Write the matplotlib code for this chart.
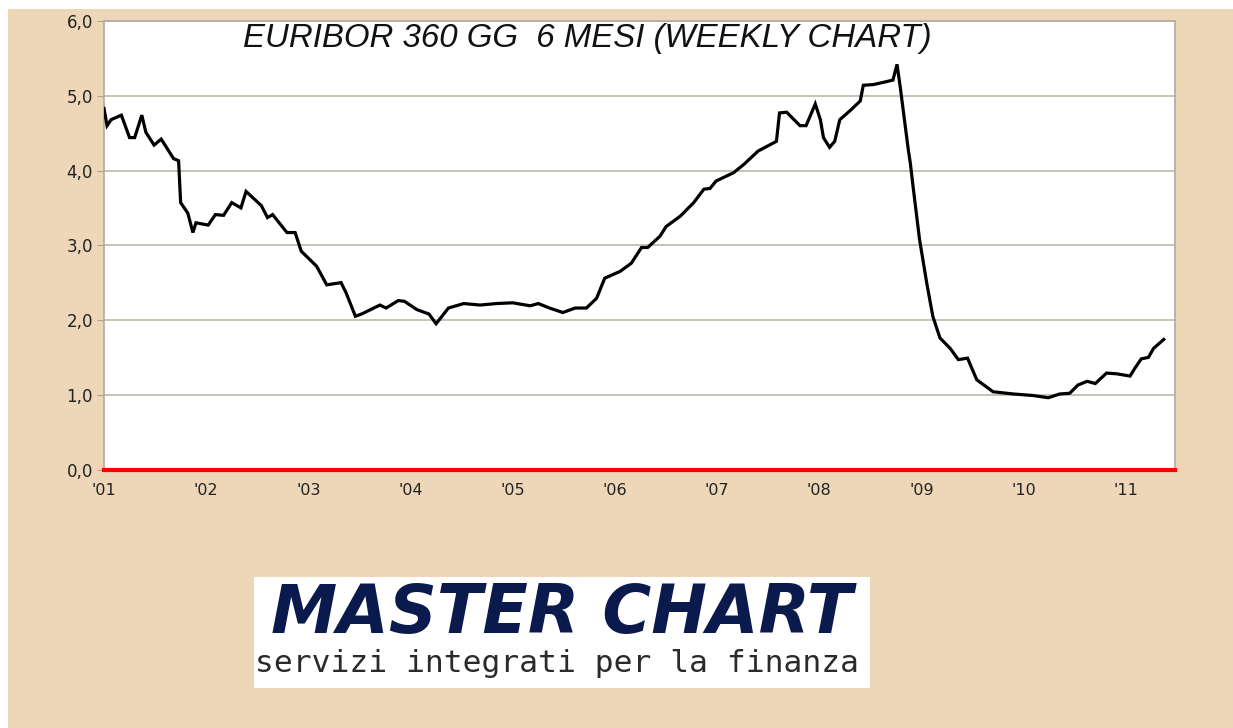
import matplotlib
matplotlib.use("Agg")
import matplotlib.pyplot as plt
from matplotlib.patches import Rectangle

# euribor 6 months (decimal year, percent)
dates = [2001.00, 2001.03, 2001.07, 2001.17, 2001.25, 2001.30, 2001.37, 2001.41,
         2001.49, 2001.56, 2001.68, 2001.73, 2001.75, 2001.82, 2001.87, 2001.90,
         2002.02, 2002.09, 2002.17, 2002.25, 2002.34, 2002.39, 2002.54, 2002.60,
         2002.65, 2002.79, 2002.87, 2002.93, 2003.08, 2003.18, 2003.32, 2003.37,
         2003.46, 2003.52, 2003.70, 2003.76, 2003.88, 2003.94, 2004.06, 2004.18,
         2004.25, 2004.37, 2004.52, 2004.68, 2004.84, 2005.00, 2005.17, 2005.25,
         2005.36, 2005.49, 2005.61, 2005.72, 2005.82, 2005.90, 2006.05, 2006.16,
         2006.26, 2006.32, 2006.44, 2006.50, 2006.64, 2006.77, 2006.87, 2006.93,
         2006.99, 2007.16, 2007.26, 2007.40, 2007.58, 2007.61, 2007.68, 2007.81,
         2007.87, 2007.96, 2008.01, 2008.04, 2008.10, 2008.15, 2008.20, 2008.30,
         2008.40, 2008.43, 2008.53, 2008.66, 2008.72, 2008.76, 2008.79, 2008.87,
         2008.89, 2008.92, 2008.98, 2009.05, 2009.11, 2009.18, 2009.28, 2009.36,
         2009.45, 2009.54, 2009.70, 2009.90, 2010.09, 2010.24, 2010.35, 2010.45,
         2010.53, 2010.62, 2010.70, 2010.81, 2010.91, 2011.04, 2011.09, 2011.15,
         2011.22, 2011.27, 2011.37]
rates = [4.83, 4.60, 4.68, 4.74, 4.44, 4.44, 4.74, 4.51,
         4.34, 4.42, 4.16, 4.13, 3.57, 3.43, 3.17, 3.30,
         3.27, 3.41, 3.40, 3.57, 3.50, 3.72, 3.53, 3.37,
         3.41, 3.17, 3.17, 2.92, 2.72, 2.47, 2.50, 2.36,
         2.05, 2.08, 2.20, 2.16, 2.26, 2.25, 2.14, 2.08,
         1.95, 2.16, 2.22, 2.20, 2.22, 2.23, 2.19, 2.22,
         2.16, 2.10, 2.16, 2.16, 2.29, 2.56, 2.65, 2.76,
         2.97, 2.97, 3.12, 3.25, 3.39, 3.57, 3.75, 3.76,
         3.86, 3.97, 4.08, 4.26, 4.39, 4.77, 4.78, 4.60,
         4.60, 4.89, 4.68, 4.44, 4.31, 4.39, 4.68, 4.80,
         4.93, 5.14, 5.15, 5.19, 5.21, 5.42, 5.13, 4.28,
         4.10, 3.75, 3.08, 2.50, 2.05, 1.76, 1.62, 1.47,
         1.49, 1.20, 1.04, 1.01, 0.99, 0.96, 1.01, 1.02,
         1.13, 1.18, 1.15, 1.29, 1.28, 1.25, 1.36, 1.48,
         1.50, 1.62, 1.74]

years = list(range(2001, 2012))
year_labels = ["'01", "'02", "'03", "'04", "'05", "'06", "'07", "'08", "'09", "'10", "'11"]
yticks = [0, 1, 2, 3, 4, 5, 6]
ytick_labels = ["0,0", "1,0", "2,0", "3,0", "4,0", "5,0", "6,0"]

tan = "#edd7b8"
W, H = 1233, 728

fig = plt.figure(figsize=(W / 100, H / 100), dpi=100, facecolor="white")
# tan background, thin white strip at top and left
fig.patches.append(Rectangle((8 / W, 0), 1, 1 - 9 / H, transform=fig.transFigure,
                             facecolor=tan, edgecolor="none", zorder=-10))

ax = fig.add_axes([104 / W, 1 - 469.5 / H, (1175 - 104) / W, (469.5 - 21) / H])
ax.set_zorder(1)
ax.set_facecolor("white")
ax.plot(dates, rates, color="black", lw=2.3, solid_joinstyle="miter", zorder=3)

ax.set_xlim(2001.0, 2011.48)
ax.set_ylim(0, 6)
ax.set_yticks(yticks)
ax.set_yticklabels(ytick_labels)
ax.set_xticks(years)
ax.set_xticklabels(year_labels)
ax.grid(axis="y", color="#c2bdb0", lw=1.3)
ax.set_axisbelow(True)
ax.tick_params(axis="y", length=5, color="#a8a49a", labelsize=12, labelcolor="#222222", pad=3)
ax.tick_params(axis="x", length=0, labelsize=11.5, labelcolor="#222222", pad=10)
for s in ["top", "left", "right"]:
    ax.spines[s].set_color("#b0aca2")
    ax.spines[s].set_linewidth(1.2)
ax.spines["bottom"].set_color("red")
ax.spines["bottom"].set_linewidth(3)

ax.text(0.451, 0.96, "EURIBOR 360 GG  6 MESI (WEEKLY CHART)", transform=ax.transAxes,
        ha="center", va="center", fontsize=23.8, style="italic",
        family=["Liberation Sans", "DejaVu Sans"], color="#111111", zorder=4)

# logo box
fig.patches.append(Rectangle((254 / W, 1 - 688 / H), (870 - 254) / W, (688 - 577) / H,
                             transform=fig.transFigure, facecolor="white",
                             edgecolor="none", zorder=1))
fig.text(562 / W, 1 - 614 / H, "MASTER CHART", ha="center", va="center",
         fontsize=48, weight="heavy", style="italic", color="#0b1a4c",
         family=["DejaVu Sans"], zorder=2)
fig.text(557 / W, 1 - 664 / H, "servizi integrati per la finanza", ha="center", va="center",
         fontsize=22.5, family=["DejaVu Sans Mono"], color="#2a2a2a", zorder=2)

fig.savefig("out.png", dpi=100, facecolor=fig.get_facecolor())
